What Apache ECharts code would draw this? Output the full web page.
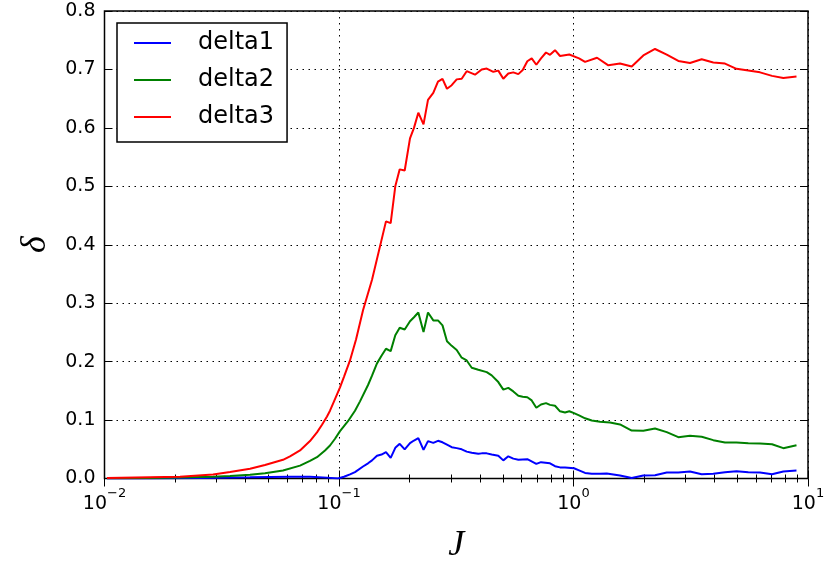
<!DOCTYPE html>
<html>
<head>
<meta charset="utf-8">
<script src="https://cdn.jsdelivr.net/npm/echarts@6/dist/echarts.min.js"></script>
<style>
  html, body { margin: 0; padding: 0; background: #fff; }
  #chart { width: 825px; height: 561px; }
</style>
</head>
<body>
<div id="chart"></div>
<script>
// Series names shown in the legend
const seriesNames = ['delta1', 'delta2', 'delta3'];
const seriesColors = ['#0000ff', '#008000', '#ff0000'];

// [J, delta] samples for each series
const delta1 = [
  [0.01025, 0], [0.01564, 0], [0.02555, 0.001], [0.04174, 0.002], [0.06181, 0.003],
  [0.07520, 0.0032], [0.08889, 0.0015], [0.09902, 0], [0.1050, 0.003], [0.1114, 0.007],
  [0.1170, 0.011], [0.1266, 0.0205], [0.1330, 0.026], [0.1383, 0.031], [0.1452, 0.039],
  [0.1518, 0.041], [0.1586, 0.045],
  [0.1661, 0.0354], [0.1738, 0.0525], [0.1815, 0.0594], [0.1906, 0.0497], [0.2008, 0.0605],
  [0.2088, 0.065], [0.2179, 0.069], [0.2293, 0.049], [0.2396, 0.0639], [0.2524, 0.061],
  [0.2643, 0.0645], [0.2763, 0.062], [0.2887, 0.058], [0.3024, 0.0536], [0.3176, 0.052],
  [0.3336, 0.050], [0.3504, 0.046], [0.3681, 0.044], [0.3927, 0.0423], [0.4060, 0.043],
  [0.4265, 0.043], [0.4479, 0.041], [0.4779, 0.039], [0.5020, 0.031], [0.5272, 0.038],
  [0.5538, 0.034], [0.5817, 0.032], [0.6354, 0.033], [0.6941, 0.025], [0.7269, 0.028],
  [0.7940, 0.026], [0.8340, 0.021], [0.8760, 0.019], [0.9201, 0.019], [1.005, 0.0175],
  [1.056, 0.014], [1.120, 0.0095], [1.196, 0.008], [1.297, 0.008], [1.386, 0.0086],
  [1.579, 0.005], [1.771, 0.001], [1.985, 0.005], [2.227, 0.0057], [2.498, 0.0103],
  [2.799, 0.0103], [3.139, 0.012], [3.521, 0.0074], [3.946, 0.008], [4.426, 0.0108],
  [4.956, 0.0125], [5.564, 0.0108], [6.243, 0.0103], [7.024, 0.0074], [7.848, 0.012],
  [8.932, 0.0137]
];

const delta2 = [
  [0.01025, 0.0005], [0.01564, 0.001], [0.02099, 0.0015], [0.02903, 0.003], [0.03429, 0.0042],
  [0.04174, 0.0063], [0.04835, 0.009], [0.05770, 0.0137], [0.06819, 0.022], [0.07520, 0.030],
  [0.08055, 0.0365], [0.08716, 0.048], [0.09154, 0.0565], [0.09617, 0.068], [0.1010, 0.081],
  [0.1092, 0.098], [0.1170, 0.116], [0.1229, 0.132], [0.1330, 0.160], [0.1383, 0.176],
  [0.1452, 0.197], [0.1518, 0.21],
  [0.1586, 0.222], [0.1661, 0.218], [0.1738, 0.245], [0.1815, 0.258], [0.1906, 0.255],
  [0.2008, 0.269], [0.2088, 0.276], [0.2179, 0.284], [0.2293, 0.2505], [0.2396, 0.284],
  [0.2524, 0.2705], [0.2643, 0.2705], [0.2763, 0.262], [0.2887, 0.235], [0.3024, 0.227],
  [0.3176, 0.220], [0.3336, 0.2067], [0.3504, 0.202], [0.3681, 0.1895], [0.3927, 0.186],
  [0.4265, 0.182], [0.4479, 0.1764], [0.4779, 0.165], [0.5020, 0.152], [0.5272, 0.155],
  [0.5538, 0.149], [0.5817, 0.1416], [0.6074, 0.140], [0.6354, 0.139], [0.6634, 0.1336],
  [0.6941, 0.121], [0.7269, 0.1267], [0.7634, 0.129], [0.7940, 0.126], [0.8340, 0.1245],
  [0.8760, 0.115], [0.9201, 0.113], [0.9596, 0.115], [1.005, 0.1118], [1.056, 0.108],
  [1.120, 0.103], [1.196, 0.0993], [1.297, 0.097], [1.431, 0.0959], [1.579, 0.0925],
  [1.771, 0.082], [1.985, 0.0817], [2.227, 0.0856], [2.498, 0.0793], [2.799, 0.0707],
  [3.139, 0.073], [3.521, 0.0714], [3.946, 0.0656], [4.426, 0.0616], [4.956, 0.0616],
  [5.564, 0.0604], [6.243, 0.060], [7.024, 0.0587], [7.848, 0.0519], [8.932, 0.057]
];

const delta3 = [
  [0.01025, 0.001], [0.01564, 0.002], [0.02099, 0.0028], [0.02903, 0.007], [0.03429, 0.011],
  [0.04174, 0.0166], [0.04835, 0.023], [0.05770, 0.032], [0.06181, 0.038], [0.06819, 0.048],
  [0.07520, 0.064], [0.08055, 0.079], [0.08463, 0.092], [0.08889, 0.106], [0.09154, 0.116],
  [0.09523, 0.132], [0.1010, 0.156], [0.1050, 0.174], [0.1114, 0.202], [0.1182, 0.238],
  [0.1266, 0.288], [0.1383, 0.340], [0.1586, 0.440], [0.1661, 0.437],
  [0.1738, 0.500], [0.1815, 0.529], [0.1906, 0.527], [0.2008, 0.582], [0.2088, 0.600],
  [0.2179, 0.626], [0.2293, 0.606], [0.2396, 0.648], [0.2524, 0.660], [0.2643, 0.679],
  [0.2763, 0.684], [0.2887, 0.667], [0.3024, 0.673], [0.3176, 0.683], [0.3336, 0.684],
  [0.3504, 0.697], [0.3802, 0.691], [0.4060, 0.700], [0.4265, 0.7015], [0.4550, 0.696],
  [0.4779, 0.698], [0.5020, 0.684], [0.5272, 0.693], [0.5538, 0.695], [0.5817, 0.692],
  [0.6074, 0.699], [0.6354, 0.714], [0.6634, 0.719], [0.6941, 0.708], [0.7269, 0.719],
  [0.7634, 0.729], [0.7940, 0.725], [0.8340, 0.733], [0.8760, 0.723], [0.9596, 0.7255],
  [1.056, 0.719], [1.120, 0.713], [1.260, 0.720], [1.408, 0.707], [1.579, 0.710],
  [1.771, 0.705], [1.985, 0.724], [2.227, 0.735], [2.498, 0.7255], [2.799, 0.7145],
  [3.139, 0.711], [3.521, 0.7175], [3.946, 0.712], [4.426, 0.710], [4.956, 0.701],
  [5.564, 0.698], [6.243, 0.695], [7.024, 0.689], [7.848, 0.6855], [8.932, 0.688]
];

// Axis ranges
const xRange = [0.01, 10];
const yRange = [0, 0.8];
const yStep = 0.1;

const seriesData = [delta1, delta2, delta3];

const sansFont = 'DejaVu Sans';
const mathFont = 'Liberation Serif';

const tickLine = { color: '#000', width: 1 };

function powerLabel(v) {
  const e = Math.round(Math.log10(v));
  const exp = e < 0 ? '\u2212' + Math.abs(e) : String(e);
  return '{b|10}{s|' + exp + '}';
}

function logAxis(position, withLabels) {
  return {
    type: 'log',
    logBase: 10,
    min: xRange[0],
    max: xRange[1],
    position: position,
    axisLine: { show: false },
    axisTick: { show: true, inside: true, length: 8, lineStyle: tickLine },
    minorTick: { show: true, splitNumber: 9, length: 4, lineStyle: tickLine },
    minorSplitLine: { show: false },
    splitLine: {
      show: withLabels,
      lineStyle: { color: '#000', width: 1, type: [1.5, 4.5] }
    },
    axisLabel: {
      show: withLabels,
      margin: 9,
      formatter: powerLabel,
      rich: {
        b: { fontFamily: sansFont, fontSize: 19, color: '#000', lineHeight: 26, verticalAlign: 'bottom' },
        s: { fontFamily: sansFont, fontSize: 13, color: '#000', lineHeight: 14, verticalAlign: 'top' }
      }
    }
  };
}

function linAxis(position, withLabels) {
  return {
    type: 'value',
    min: yRange[0],
    max: yRange[1],
    interval: yStep,
    position: position,
    axisLine: { show: false },
    axisTick: { show: true, inside: true, length: 8, lineStyle: tickLine },
    splitLine: {
      show: withLabels,
      lineStyle: { color: '#000', width: 1, type: [1.5, 4.5] }
    },
    axisLabel: {
      show: withLabels,
      margin: 9,
      fontFamily: sansFont,
      fontSize: 19,
      color: '#000',
      formatter: v => v.toFixed(1)
    }
  };
}

const xMain = Object.assign(logAxis('bottom', true), {
  name: 'J',
  nameLocation: 'middle',
  nameGap: 49,
  nameTextStyle: { fontFamily: mathFont, fontStyle: 'italic', fontSize: 36, color: '#000' }
});
const yMain = Object.assign(linAxis('left', true), {
  name: '\u03b4',
  nameLocation: 'middle',
  nameRotate: 90,
  nameGap: 51,
  nameTextStyle: { fontFamily: mathFont, fontStyle: 'italic', fontSize: 36, color: '#000' }
});

const chart = echarts.init(document.getElementById('chart'), null, { renderer: 'canvas' });

chart.setOption({
  animation: false,
  backgroundColor: '#fff',
  grid: {
    left: 104.5, right: 17, top: 11, bottom: 82.5,
    outerBoundsMode: 'none',
    containLabel: false,
    show: true, borderColor: '#000', borderWidth: 1.5, backgroundColor: 'transparent'
  },
  xAxis: [xMain, logAxis('top', false)],
  yAxis: [yMain, linAxis('right', false)],
  legend: {
    orient: 'vertical',
    left: 117,
    top: 23,
    padding: [6, 13, 11, 17],
    icon: 'rect',
    itemWidth: 37,
    itemHeight: 2,
    itemGap: 9,
    backgroundColor: '#fff',
    borderColor: '#000',
    borderWidth: 1.5,
    borderRadius: 0,
    textStyle: { fontFamily: sansFont, fontSize: 24, color: '#000', lineHeight: 28, padding: [0, 0, 0, 22] },
    data: seriesNames
  },
  series: seriesNames.map((name, i) => ({
    type: 'line',
    name: name,
    data: seriesData[i],
    xAxisIndex: 0,
    yAxisIndex: 0,
    symbol: 'none',
    smooth: false,
    lineStyle: { color: seriesColors[i], width: 2 },
    itemStyle: { color: seriesColors[i] }
  }))
});
</script>
</body>
</html>
